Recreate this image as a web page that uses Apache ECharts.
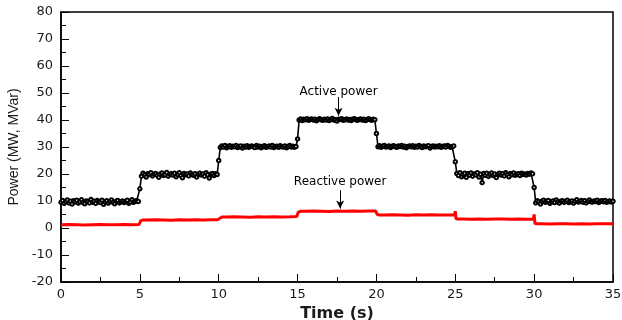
<!DOCTYPE html>
<html><head><meta charset="utf-8">
<script src="https://cdn.jsdelivr.net/npm/echarts@6/dist/echarts.min.js"></script>
<style>html,body{margin:0;padding:0;background:#fff}#c{width:622px;height:320px}</style>
</head><body><div id="c"></div>
<script>
// Active power (MW), sampled every 0.1 s from 0 to 35 s
const activePower = [
9.5,10.2,9.1,9.8,10.4,9.3,9.9,8.9,10.1,9.6,
10.3,9.2,9.7,10.5,9.4,9.0,10.0,9.8,9.3,10.6,
9.5,9.9,9.1,10.2,9.7,9.4,10.3,8.8,9.6,10.1,
9.2,9.8,10.4,9.5,9.0,9.9,10.2,9.3,9.7,10.0,
9.4,9.8,10.3,9.1,9.6,10.5,9.5,9.9,10.1,9.8,
14.5,
19.2,20.3,19.6,18.9,20.1,19.8,20.5,19.3,19.9,20.2,
19.5,18.8,20.0,20.4,19.4,19.7,20.6,19.2,19.9,20.1,
19.6,20.3,19.0,19.8,20.5,19.4,18.6,20.2,19.7,20.0,
19.3,20.4,19.8,19.5,20.1,18.9,19.9,20.3,19.6,20.0,
19.2,20.5,19.7,18.5,19.9,20.2,19.4,20.1,19.8,
25.0,
29.8,30.4,30.0,30.6,29.7,30.2,30.5,29.9,30.3,30.1,
30.6,29.8,30.2,30.4,29.6,30.3,30.0,30.5,29.9,30.2,
30.4,30.1,29.8,30.6,30.0,30.3,29.7,30.2,30.5,29.9,
30.1,30.4,30.0,30.6,29.8,30.2,30.3,29.9,30.5,30.1,
30.0,30.4,29.7,30.2,30.6,30.0,30.3,29.9,30.2,
33.0,
40.0,40.4,39.8,40.3,40.1,40.5,39.9,40.2,40.4,40.0,
40.3,39.7,40.2,40.5,40.1,39.9,40.3,40.0,40.4,39.8,
40.2,40.6,40.0,40.1,39.6,40.3,40.2,40.5,39.9,40.1,
40.4,40.0,40.2,39.8,40.3,40.5,40.1,39.9,40.2,40.4,
40.0,40.3,39.8,40.1,40.5,40.2,39.9,40.3,40.1,
35.0,
30.1,30.5,29.9,30.3,30.6,30.0,30.2,30.4,29.8,30.3,
30.5,30.1,29.9,30.4,30.2,30.6,30.0,30.3,29.7,30.2,
30.4,30.1,30.5,29.9,30.3,30.0,30.6,30.2,29.8,30.4,
30.1,30.3,30.5,29.6,30.2,30.4,30.0,30.3,30.1,30.5,
29.9,30.2,30.4,30.0,30.6,30.3,29.9,30.1,30.4,
24.5,
20.2,19.4,20.5,19.0,19.8,20.3,18.8,20.1,19.6,20.4,
19.2,20.0,19.7,20.5,18.9,19.9,16.8,20.2,19.5,20.3,
19.1,19.8,20.4,19.4,20.0,18.7,19.9,20.3,19.6,20.1,
19.3,20.5,19.8,19.0,20.2,19.7,20.4,19.5,19.9,20.1,
19.4,20.3,19.8,20.0,19.6,20.2,19.9,20.4,20.1,
15.0,
9.3,10.1,9.6,8.9,9.9,10.3,9.5,9.8,10.2,9.1,
9.7,10.0,9.4,10.4,9.6,9.2,9.9,10.1,9.5,9.8,
10.3,9.4,9.7,10.0,9.2,9.9,10.5,9.6,9.8,10.2,
9.5,10.1,9.3,9.9,10.4,9.7,9.6,10.0,9.8,10.3,
9.4,9.9,10.1,9.7,10.2,9.5,9.8,10.0,9.6,9.9
];
const sampleStep = 0.1;

// Reactive power (MVar)
const reactiveTime = [
0,0.5,1,1.5,2,2.5,3,3.5,4,4.5,4.95,
5.05,5.2,5.5,6,6.5,7,7.5,8,8.5,9,9.5,9.95,
10.05,10.2,10.5,11,11.5,12,12.5,13,13.5,14,14.5,14.95,
15.05,15.2,15.5,16,16.5,17,17.5,18,18.5,19,19.5,19.95,
20.0,20.05,20.2,20.5,21,21.5,22,22.5,23,23.5,24,24.5,24.95,
25.0,25.05,25.2,25.5,26,26.5,27,27.5,28,28.5,29,29.5,29.95,
30.0,30.05,30.2,30.5,31,31.5,32,32.5,33,33.5,34,34.5,35
];
const reactivePower = [
1.2,1.3,1.2,1.1,1.2,1.3,1.2,1.2,1.3,1.2,1.3,
2.6,3.0,3.0,3.1,3.0,2.9,3.1,3.0,3.1,3.0,3.1,3.1,
3.8,4.1,4.1,4.2,4.1,4.0,4.2,4.1,4.2,4.1,4.2,4.3,
5.9,6.2,6.2,6.3,6.2,6.1,6.3,6.2,6.3,6.2,6.3,6.3,
7.0,5.0,4.8,4.8,4.9,4.8,4.7,4.9,4.8,4.9,4.8,4.8,4.9,
6.2,3.4,3.3,3.3,3.2,3.3,3.2,3.3,3.3,3.2,3.3,3.2,3.3,
5.0,1.7,1.6,1.6,1.5,1.6,1.6,1.5,1.6,1.5,1.6,1.6,1.6
];

const xTicks = {min: 0, max: 35, interval: 5};
const yTicks = {min: -20, max: 80, interval: 10};
const activeLabel = {text: 'Active power', at: [17.6, 50.4], arrowFrom: [17.6, 48.5], arrowTo: [17.6, 41.6]};
const reactiveLabel = {text: 'Reactive power', at: [17.7, 17.0], arrowFrom: [17.7, 14.0], arrowTo: [17.7, 7.2]};

const activeData = activePower.map((v, i) => [+(i * sampleStep).toFixed(2), v]);
const reactiveData = reactiveTime.map((t, i) => [t, reactivePower[i]]);

const chart = echarts.init(document.getElementById('c'), null, {renderer: 'canvas'});
const tickFont = {fontFamily: 'DejaVu Sans', fontSize: 13, color: '#1a1a1a'};
chart.setOption({
  animation: false,
  backgroundColor: '#fff',
  grid: {left: 61, right: 9, top: 12, bottom: 38, show: true, borderColor: '#000', borderWidth: 1.5, containLabel: false, outerBoundsMode: 'none'},
  xAxis: {
    type: 'value', min: xTicks.min, max: xTicks.max, interval: xTicks.interval,
    name: 'Time (s)', nameLocation: 'middle', nameGap: 16,
    nameTextStyle: {fontFamily: 'DejaVu Sans', fontWeight: 'bold', fontSize: 16, color: '#1a1a1a'},
    axisLine: {onZero: false, lineStyle: {color: '#000', width: 1.5}},
    axisTick: {inside: true, length: 8, lineStyle: {color: '#000', width: 1}},
    minorTick: {show: true, splitNumber: 2, length: 5, lineStyle: {color: '#000', width: 1}},
    axisLabel: Object.assign({margin: 6}, tickFont),
    splitLine: {show: false}
  },
  yAxis: {
    type: 'value', min: yTicks.min, max: yTicks.max, interval: yTicks.interval,
    name: 'Power (MW, MVar)', nameLocation: 'middle', nameGap: 38,
    nameTextStyle: {fontFamily: 'Liberation Sans', fontSize: 14, color: '#1a1a1a'},
    axisLine: {onZero: false, lineStyle: {color: '#000', width: 1.5}},
    axisTick: {inside: true, length: 8, lineStyle: {color: '#000', width: 1}},
    minorTick: {show: true, splitNumber: 2, length: 5, lineStyle: {color: '#000', width: 1}},
    axisLabel: Object.assign({margin: 8}, tickFont),
    splitLine: {show: false}
  },
  series: [
    {
      type: 'line', name: 'Reactive power', data: reactiveData,
      showSymbol: false, lineStyle: {color: '#ff0000', width: 3},
      itemStyle: {color: '#ff0000'}, z: 2,
      markLine: {
        silent: true, symbol: ['none', 'arrow'], symbolSize: [6, 8],
        label: {show: false}, lineStyle: {color: '#000', width: 1, type: 'solid'},
        data: [[{coord: reactiveLabel.arrowFrom}, {coord: reactiveLabel.arrowTo}]]
      }
    },
    {
      type: 'line', name: 'Active power', data: activeData,
      symbol: 'emptyCircle', symbolSize: 3.5, showAllSymbol: true,
      lineStyle: {color: '#000', width: 1.6},
      itemStyle: {color: '#000', borderColor: '#000', borderWidth: 1}, z: 3,
      markLine: {
        silent: true, symbol: ['none', 'arrow'], symbolSize: [6, 8],
        label: {show: false}, lineStyle: {color: '#000', width: 1, type: 'solid'},
        data: [[{coord: activeLabel.arrowFrom}, {coord: activeLabel.arrowTo}]]
      }
    }
  ]
});
const pA = chart.convertToPixel({gridIndex: 0}, activeLabel.at);
const pR = chart.convertToPixel({gridIndex: 0}, reactiveLabel.at);
chart.setOption({
  graphic: [
    {type: 'text', x: pA[0], y: pA[1], z: 10, style: {text: activeLabel.text, font: '12px "DejaVu Sans"', fill: '#000', align: 'center', verticalAlign: 'middle'}},
    {type: 'text', x: pR[0], y: pR[1], z: 10, style: {text: reactiveLabel.text, font: '12px "DejaVu Sans"', fill: '#000', align: 'center', verticalAlign: 'middle'}}
  ]
});
</script></body></html>
